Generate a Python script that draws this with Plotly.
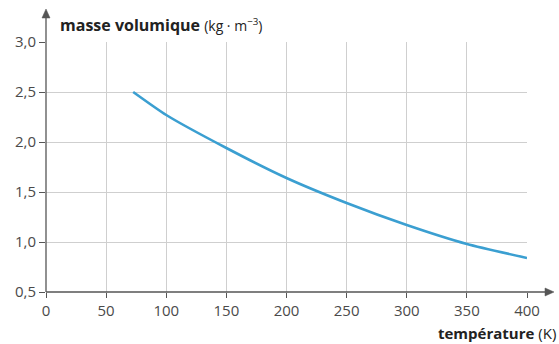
import plotly.graph_objects as go

temperature_K = [72.5, 100, 150, 200, 250, 300, 350, 400]
masse_volumique = [2.50, 2.27, 1.94, 1.64, 1.39, 1.17, 0.98, 0.84]

x_ticks = [0, 50, 100, 150, 200, 250, 300, 350, 400]
y_ticks = [0.5, 1.0, 1.5, 2.0, 2.5, 3.0]
y_tick_labels = ["0,5", "1,0", "1,5", "2,0", "2,5", "3,0"]

FONT = "Open Sans"
TXT = "#4a4a4a"
AX = "#555555"

W, H = 559, 344
L, R, T, B = 46, 32, 42, 52
PW, PH = W - L - R, H - T - B   # 481 x 250


def px(xp):  # page pixel -> paper x
    return (xp - L) / PW


def py(yp):  # page pixel -> paper y
    return (H - B - yp) / PH


fig = go.Figure()
fig.add_trace(go.Scatter(
    x=temperature_K, y=masse_volumique, mode="lines",
    line=dict(color="#3b9fd1", width=2.6, shape="spline", smoothing=0.6),
    hoverinfo="skip", showlegend=False,
))

fig.update_layout(
    width=W, height=H,
    margin=dict(l=L, r=R, t=T, b=B),
    paper_bgcolor="white", plot_bgcolor="white",
    font=dict(family=FONT, size=15, color=TXT),
    xaxis=dict(range=[0, 400], tickvals=x_ticks, ticktext=[str(v) for v in x_ticks],
               showgrid=True, gridcolor="#cfcfcf", gridwidth=1,
               zeroline=False, showline=False, ticks="outside", ticklen=5,
               tickcolor=AX, tickfont=dict(family=FONT, size=15, color=TXT)),
    yaxis=dict(range=[0.5, 3.0], tickvals=y_ticks, ticktext=y_tick_labels,
               showgrid=True, gridcolor="#cfcfcf", gridwidth=1,
               zeroline=False, showline=False, ticks="outside", ticklen=6,
               tickcolor=AX, tickfont=dict(family=FONT, size=15, color=TXT)),
)

# axis lines with arrowheads
fig.add_shape(type="line", xref="paper", yref="paper", x0=0, y0=0, x1=px(548), y1=0,
              line=dict(color=AX, width=1.3))
fig.add_shape(type="path", xref="paper", yref="paper",
              path=f"M {px(554)} {py(292)} L {px(545)} {py(288)} L {px(545)} {py(296)} Z",
              fillcolor=AX, line=dict(color=AX, width=0.5))
fig.add_shape(type="line", xref="paper", yref="paper", x0=0, y0=0, x1=0, y1=py(16),
              line=dict(color=AX, width=1.3))
fig.add_shape(type="path", xref="paper", yref="paper",
              path=f"M {px(46)} {py(9)} L {px(42)} {py(18)} L {px(50)} {py(18)} Z",
              fillcolor=AX, line=dict(color=AX, width=0.5))

# axis titles
fig.add_annotation(xref="paper", yref="paper", x=px(58), y=py(25),
                   xanchor="left", yanchor="middle", showarrow=False,
                   text="<b>masse volumique</b> <span style='font-size:14px'>(kg · m<sup>−3</sup>)</span>",
                   font=dict(family=FONT, size=16, color="#222"))
fig.add_annotation(xref="paper", yref="paper", x=px(558), y=py(333),
                   xanchor="right", yanchor="middle", showarrow=False,
                   text="<b>température</b> (K)",
                   font=dict(family=FONT, size=15, color="#222"))

fig.write_html("out.html", config={"displayModeBar": False},
               post_script="document.body.style.margin='0';document.body.style.overflow='hidden';")
